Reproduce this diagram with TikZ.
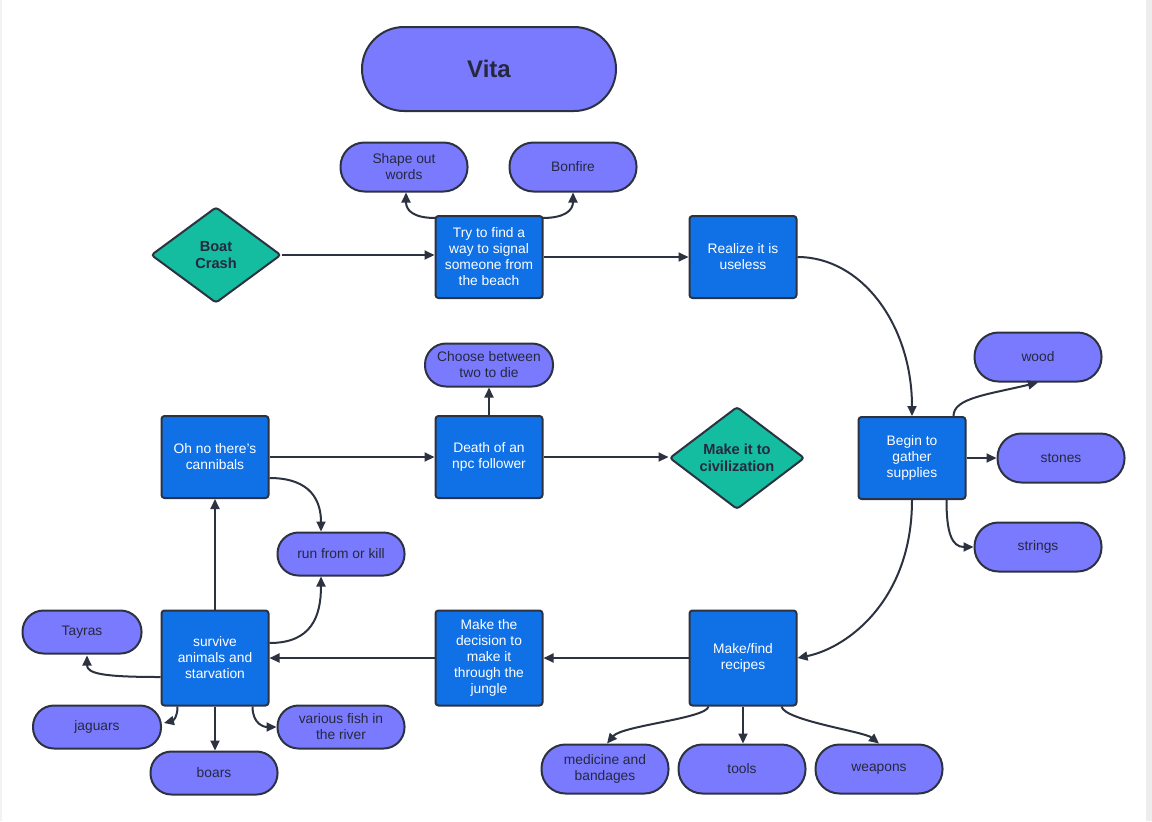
\documentclass[tikz,border=0pt]{standalone}
\usepackage{fontspec}
\setmainfont{Liberation Sans}
\usetikzlibrary{shapes.geometric,arrows.meta,calc}
\definecolor{boxblue}{RGB}{16,112,230}
\definecolor{pillfill}{RGB}{122,122,255}
\definecolor{tealfill}{RGB}{20,188,160}
\definecolor{edgecol}{RGB}{45,50,65}
\definecolor{pilltext}{RGB}{38,40,62}
\begin{document}
\begin{tikzpicture}[x=0.5pt,y=-0.5pt,
  box/.style={draw=edgecol, line width=1pt, fill=boxblue, rounded corners=1.5pt, text=white, align=center,
    font=\fontsize{6.9}{8}\selectfont, inner sep=0pt, minimum width=53.5pt, minimum height=41pt},
  tallbox/.style={box, minimum height=47.5pt},
  pill/.style={draw=edgecol, line width=1pt, fill=pillfill, rounded corners=12pt, text=pilltext, align=center,
    font=\fontsize{6.9}{8}\selectfont, inner sep=0pt, minimum width=63.5pt, minimum height=24.5pt},
  spill/.style={pill, rounded corners=10.5pt, minimum height=21.5pt},
  dia/.style={diamond, draw=edgecol, line width=1pt, fill=tealfill, rounded corners=1.5pt, text=pilltext, align=center,
    font=\fontsize{7.3}{8.6}\selectfont\bfseries, inner sep=0pt},
  conn/.style={draw=edgecol, line width=1pt, -{Triangle[length=5pt,width=4.5pt]}},
]
\useasboundingbox (0,0) rectangle (1152,821);
\fill[white] (0,0) rectangle (1152,821);
\fill[black!7] (1146,0) rectangle (1152,821);
\fill[black!5] (0,0) rectangle (2,821);

% nodes
\node[pill, minimum width=127pt, minimum height=42pt, rounded corners=21pt,
      font=\fontsize{12}{14}\selectfont\bfseries] (vita) at (489,69) {Vita};
\node[pill] (shape) at (404,167) {Shape out\\words};
\node[pill] (bonfire) at (573,167) {Bonfire};
\node[dia, minimum width=65pt, minimum height=48pt] (boat) at (216,255) {Boat\\Crash};
\node[box] (try) at (489,257) {Try to find a\\way to signal\\someone from\\the beach};
\node[box] (realize) at (743,257) {Realize it is\\useless};
\node[pill] (wood) at (1038,357) {wood};
\node[spill, minimum width=64pt] (choose) at (489,365) {Choose between\\two to die};
\node[box] (ohno) at (215,457) {Oh no there's\\cannibals};
\node[box] (death) at (489,457) {Death of an\\npc follower};
\node[dia, minimum width=67.5pt, minimum height=50.5pt] (civ) at (737,458) {Make it to\\civilization};
\node[box] (begin) at (912,458) {Begin to\\gather\\supplies};
\node[pill] (stones) at (1061,458) {stones};
\node[pill] (strings) at (1038,547) {strings};
\node[spill] (run) at (341,554) {run from or kill};
\node[spill, minimum width=59.5pt] (tayras) at (82,632) {Tayras};
\node[tallbox] (survive) at (215,658) {survive\\animals and\\starvation};
\node[tallbox] (decision) at (489,658) {Make the\\decision to\\make it\\through the\\jungle};
\node[tallbox] (makefind) at (743,658) {Make/find\\recipes};
\node[spill, minimum width=64pt] (jaguars) at (97,727) {jaguars};
\node[spill] (fish) at (341,727) {various fish in\\the river};
\node[spill] (boars) at (214,773) {boars};
\node[pill] (medicine) at (605,769) {medicine and\\bandages};
\node[pill] (tools) at (742,769) {tools};
\node[pill] (weapons) at (879,769) {weapons};

% connectors
\draw[conn] (boat.east) -- (try.west |- boat.east);
\draw[conn] ($(try.north west)+(1,3)$) .. controls +(-22,0) and +(0,18) .. ($(shape.south)+(2,0)$);
\draw[conn] ($(try.north east)+(-1,3)$) .. controls +(22,0) and +(0,18) .. (bonfire.south);
\draw[conn] (try.east) -- (realize.west);
\draw[conn] (realize.east) .. controls +(65,0) and +(0,-90) .. (begin.north);
\draw[conn] ($(begin.north east)+(-13,0)$) .. controls +(0,-18) and +(-50,12) .. (wood.south);
\draw[conn] (begin.east) -- (stones.west);
\draw[conn] ($(begin.south east)+(-20,0)$) .. controls +(0,32) and +(-22,0) .. (strings.west);
\draw[conn] (begin.south) .. controls +(0,100) and +(50,-10) .. (makefind.east);
\draw[conn] (makefind.west) -- (decision.east);
\draw[conn] (decision.west) -- (survive.east);
\draw[conn] ($(makefind.south west)+(20,0)$) .. controls +(-2,12) and +(15,-18) .. ($(medicine.north)+(2,0)$);
\draw[conn] (makefind.south) -- (makefind.south |- tools.north);
\draw[conn] ($(makefind.south east)+(-16,0)$) .. controls +(3,14) and +(-15,-12) .. (weapons.north);
\draw[conn] (survive.north) -- (ohno.south);
\draw[conn] ($(survive.east)+(0,-15)$) .. controls +(42,0) and +(0,40) .. ($(run.south)+(-20,0)$);
\draw[conn] ($(ohno.east)+(0,21)$) .. controls +(42,0) and +(0,-30) .. ($(run.north)+(-20,0)$);
\draw[conn] ($(survive.west)+(0,19)$) .. controls +(-58,0) and +(0,18) .. ($(tayras.south)+(5,1)$);
\draw[conn] ($(survive.south west)+(17,0)$) .. controls +(0,12) and +(8,-2) .. ($(jaguars.east)+(2,-4)$);
\draw[conn] (survive.south) -- (survive.south |- boars.north);
\draw[conn] ($(survive.south east)+(-17,0)$) .. controls +(0,18) and +(-12,0) .. (fish.west);
\draw[conn] (ohno.east) -- (death.west);
\draw[conn] (death.north) -- (choose.south);
\draw[conn] (death.east) -- (death.east -| civ.west);
\end{tikzpicture}
\end{document}
